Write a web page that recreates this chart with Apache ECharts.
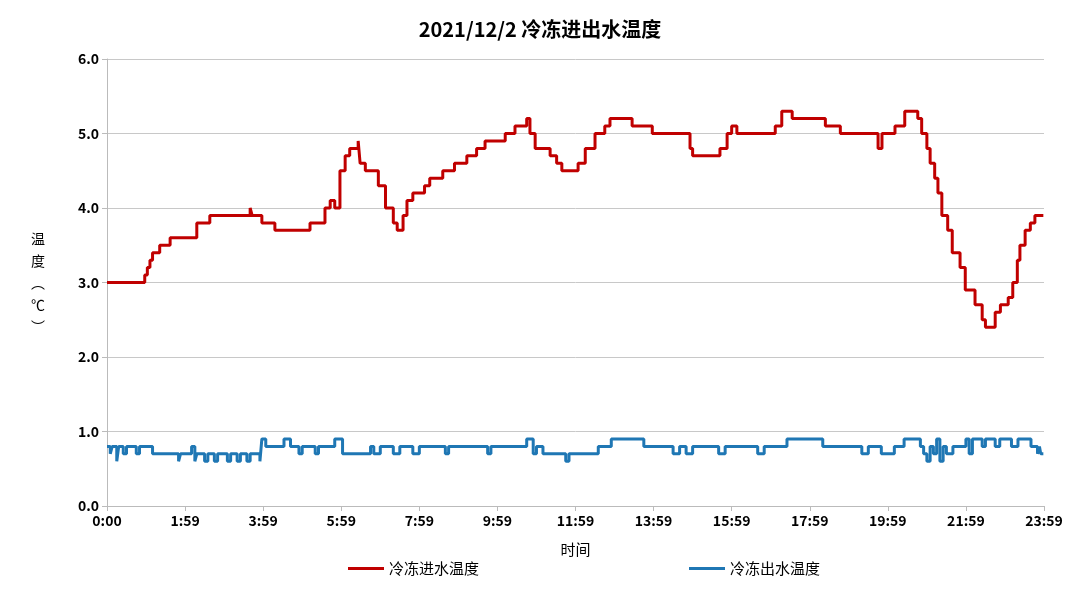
<!DOCTYPE html><html><head><meta charset="utf-8"><script src="https://cdn.jsdelivr.net/npm/echarts@6/dist/echarts.min.js"></script></head><body style="margin:0"><div id="c" style="width:1080px;height:607px"></div><script>
const title='2021/12/2 冷冻进出水温度';
const seriesNames=['冷冻进水温度','冷冻出水温度'];
const inletMinutes=[0,58,62,66,70,74,81,97,138,158,220,223,238,258,312,335,343,350,358,366,373,386,389,397,417,428,440,446,455,461,470,488,496,516,534,553,568,581,612,627,645,650,658,681,691,699,711,724,735,750,765,773,807,838,888,896,900,942,953,960,968,1019,1027,1037,1053,1104,1127,1180,1185,1191,1211,1226,1246,1252,1260,1265,1272,1277,1283,1292,1299,1311,1319,1334,1345,1350,1365,1373,1385,1392,1399,1403,1411,1419,1426,1439];
const inletValues=[3.0,3.1,3.2,3.3,3.4,3.4,3.5,3.6,3.8,3.9,4.0,3.9,3.8,3.7,3.8,4.0,4.1,4.0,4.5,4.7,4.8,4.9,4.6,4.5,4.3,4.0,3.8,3.7,3.9,4.1,4.2,4.3,4.4,4.5,4.6,4.7,4.8,4.9,5.0,5.1,5.2,5.0,4.8,4.7,4.6,4.5,4.5,4.6,4.8,5.0,5.1,5.2,5.1,5.0,5.0,4.8,4.7,4.8,5.0,5.1,5.0,5.0,5.1,5.3,5.2,5.1,5.0,5.0,4.8,5.0,5.1,5.3,5.2,5.0,4.8,4.6,4.4,4.2,3.9,3.7,3.4,3.2,2.9,2.7,2.5,2.4,2.6,2.7,2.8,3.0,3.3,3.5,3.7,3.8,3.9,3.9];
const outletMinutes=[0,5,8,15,18,25,30,45,50,70,110,113,130,135,138,150,155,165,170,185,190,200,205,215,220,235,238,244,272,282,295,300,320,325,350,362,400,405,410,420,440,450,470,480,520,525,585,590,645,655,660,670,705,710,755,775,825,870,880,890,900,940,950,1000,1010,1045,1100,1160,1170,1190,1210,1225,1250,1255,1260,1265,1270,1275,1280,1285,1290,1300,1320,1325,1330,1345,1350,1365,1372,1390,1400,1420,1430,1433,1435,1439];
const outletValues=[0.8,0.7,0.8,0.6,0.8,0.7,0.8,0.7,0.8,0.7,0.6,0.7,0.8,0.6,0.7,0.6,0.7,0.6,0.7,0.6,0.7,0.6,0.7,0.6,0.7,0.6,0.9,0.8,0.9,0.8,0.7,0.8,0.7,0.8,0.9,0.7,0.7,0.8,0.7,0.8,0.7,0.8,0.7,0.8,0.7,0.8,0.7,0.8,0.9,0.7,0.8,0.7,0.6,0.7,0.8,0.9,0.8,0.7,0.8,0.7,0.8,0.7,0.8,0.7,0.8,0.9,0.8,0.7,0.8,0.7,0.8,0.9,0.8,0.7,0.6,0.8,0.7,0.9,0.6,0.8,0.7,0.8,0.9,0.7,0.9,0.8,0.9,0.8,0.9,0.8,0.9,0.8,0.7,0.8,0.7,0.7];
const zip=(a,b)=>a.map((v,i)=>[v,b[i]]);
const F='"Noto Sans CJK SC", sans-serif';
const ch=echarts.init(document.getElementById('c'));
ch.setOption({
 animation:false,
 title:{text:title,left:'center',top:14,textStyle:{fontFamily:F,fontSize:20,fontWeight:'bold',color:'#000'}},
 legend:{bottom:26,left:343,itemGap:210,itemWidth:36,icon:'rect',itemHeight:3,textStyle:{fontFamily:F,fontSize:15,color:'#000'},data:seriesNames},
 grid:{left:107,right:36,top:59,bottom:101},
 xAxis:{type:'value',min:0,max:1440,interval:120,name:'时间',nameLocation:'middle',nameGap:36,nameTextStyle:{fontFamily:F,fontSize:15,color:'#000'},
  axisLine:{lineStyle:{color:'#bbb'}},axisTick:{show:true,length:5,lineStyle:{color:'#bbb'}},splitLine:{show:false},
  axisLabel:{fontFamily:F,fontSize:14,fontWeight:'bold',color:'#000',formatter:v=>v===0?'0:00':(Math.floor((v-1)/60)+':59')}},
 yAxis:{type:'value',min:0,max:6,interval:1,name:'温\n度\n︵\n℃\n︶',nameLocation:'middle',nameRotate:0,nameGap:62,nameTextStyle:{fontFamily:F,fontSize:14,color:'#000',lineHeight:22},
  axisLine:{show:true,lineStyle:{color:'#bbb'}},splitLine:{lineStyle:{color:'#c8c8c8'}},
  axisLabel:{fontFamily:F,fontSize:14,fontWeight:'bold',color:'#000',formatter:v=>v.toFixed(1)}},
 series:[
  {name:seriesNames[0],type:'line',step:'end',showSymbol:false,data:zip(inletMinutes,inletValues),lineStyle:{color:'#c00000',width:3},itemStyle:{color:'#c00000'}},
  {name:seriesNames[1],type:'line',step:'end',showSymbol:false,data:zip(outletMinutes,outletValues),lineStyle:{color:'#1f77b4',width:3},itemStyle:{color:'#1f77b4'}}
 ]
});
</script></body></html>
